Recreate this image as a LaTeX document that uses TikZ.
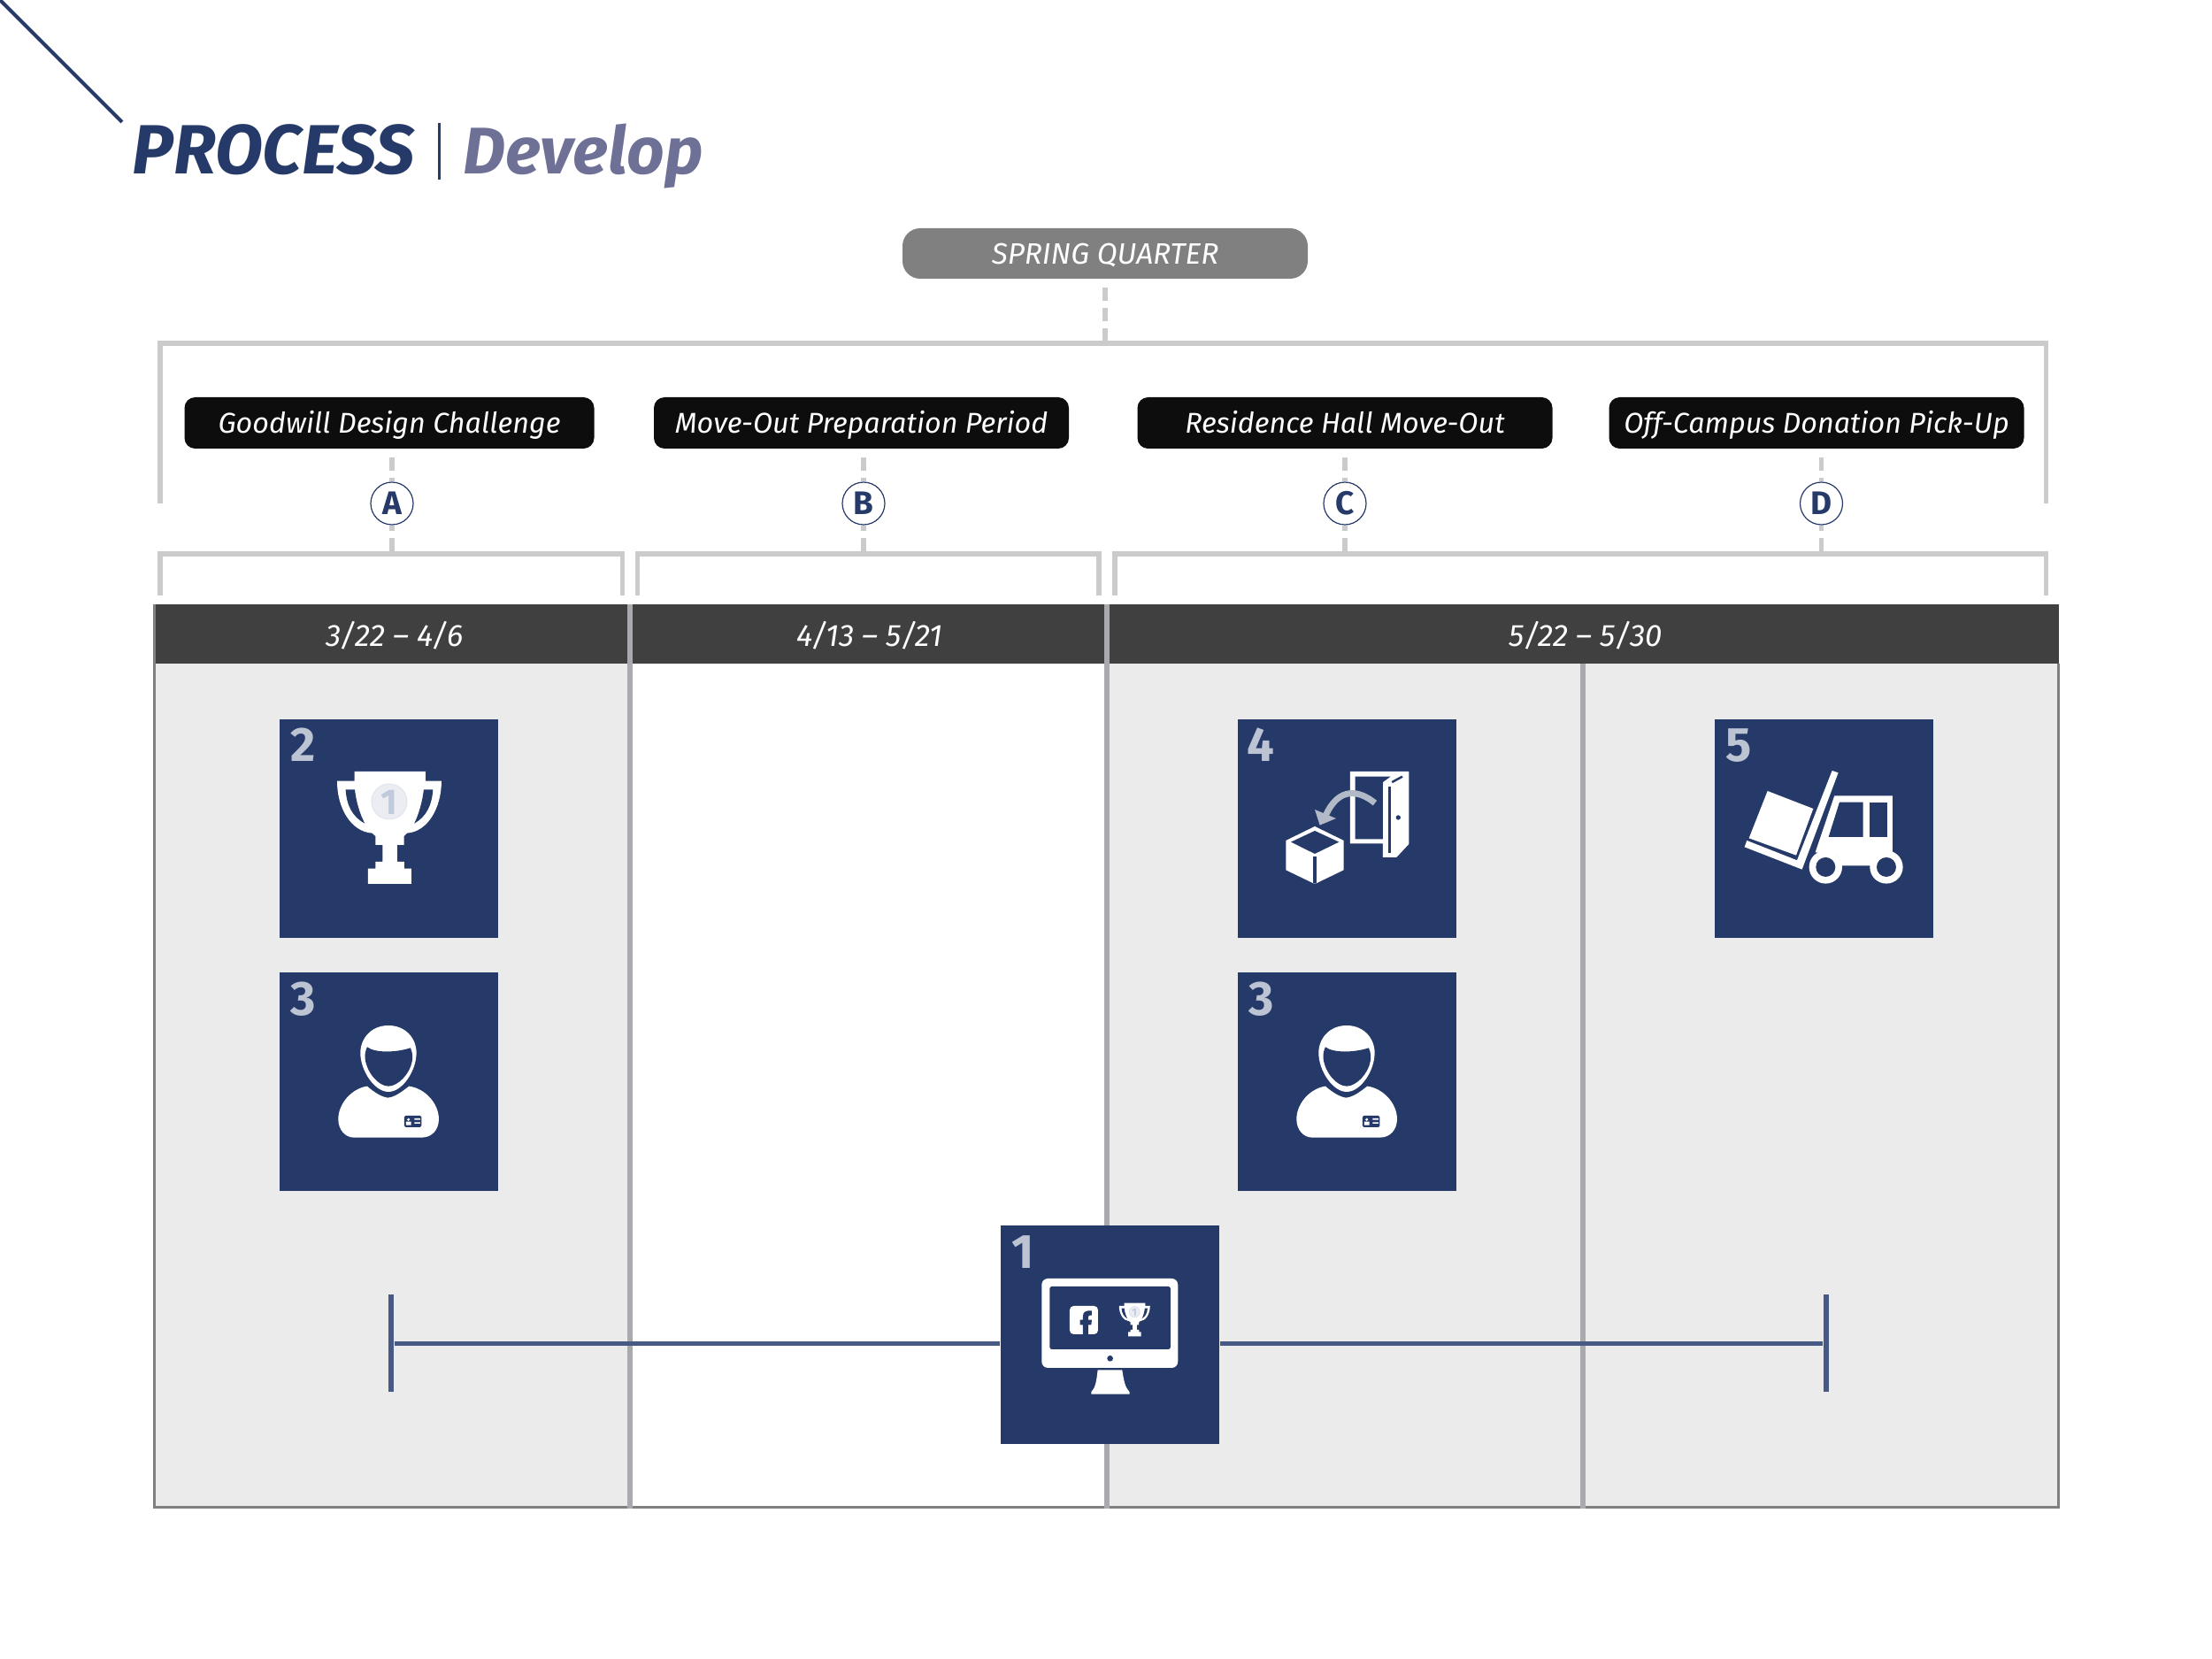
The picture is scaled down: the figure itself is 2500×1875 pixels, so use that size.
\documentclass[tikz,border=0pt]{standalone}
\usepackage{fontspec}
\setmainfont{Fira Sans}
\usetikzlibrary{calc}
\definecolor{navy}{HTML}{253A69}
\definecolor{dusk}{HTML}{6E7096}
\definecolor{numgray}{HTML}{BCC4D3}
\definecolor{rail}{HTML}{CBCBCB}
\definecolor{sepgray}{HTML}{A9AAAD}
\definecolor{pane}{HTML}{EBEBEB}
\definecolor{hdr}{HTML}{404040}
\definecolor{spanline}{HTML}{475A85}
\definecolor{medal}{HTML}{ECEDF3}
\definecolor{medalnum}{HTML}{C1C9DC}
\tikzstyle{phase} = [rectangle, fill=black!95, text=white, rounded corners=1.2mm, inner sep=0pt,
    minimum width=46.9mm, minimum height=5.8mm, text height=3mm, text depth=.6mm,
    font=\fontsize{9.2pt}{11pt}\selectfont\itshape]
\tikzstyle{quarter} = [rectangle, fill=black!50, text=white, rounded corners=2mm, inner sep=0pt,
    minimum width=45.8mm, minimum height=5.7mm, text height=3.1mm, text depth=.6mm,
    font=\fontsize{9.5pt}{11pt}\selectfont\itshape]
\tikzstyle{tag} = [circle, draw=navy, line width=.12mm, fill=white, text=navy, inner sep=0pt,
    minimum size=4.8mm, font=\fontsize{10.5pt}{12pt}\selectfont\bfseries]
\tikzstyle{tile} = [rectangle, fill=navy, inner sep=0pt, minimum size=24.7mm]
\tikzstyle{num} = [anchor=base west, inner sep=0pt, text=numgray, font=\fontsize{15.5pt}{18pt}\selectfont\bfseries]
\tikzstyle{datelbl} = [anchor=base, text=white, inner sep=0pt, font=\fontsize{9.9pt}{11pt}\selectfont\itshape]
\tikzstyle{dashline} = [rail, line width=.55mm, dash pattern=on 1.5mm off .8mm]
\tikzstyle{railline} = [rail, line width=.55mm]
\tikzstyle{sep} = [sepgray, line width=.6mm]
\tikzstyle{spancap} = [rectangle, fill=spanline, inner sep=0pt, minimum width=.6mm, minimum height=11mm]
\tikzstyle{iconunit} = [x=.03333mm, y=-.03333mm]
\newcommand{\trophyicon}{
  \fill[white] (302,216) -- (543,216) -- (543,248) -- (597,248) .. controls (597,340) and (550,420) .. (480,425)
    -- (470,435) -- (470,465) -- (447,465) -- (447,522) -- (471,522) -- (471,545) -- (495,545) -- (495,597)
    -- (348,597) -- (348,545) -- (373,545) -- (373,522) -- (397,522) -- (397,465) -- (373,465) -- (373,435)
    -- (362,425) .. controls (290,420) and (243,340) .. (243,248) -- (302,248) -- cycle;
  \fill[navy] (272,277) -- (303,277) .. controls (308,320) and (320,360) .. (337,392)
    .. controls (295,370) and (275,330) .. (272,277) -- cycle;
  \fill[navy] (568,277) -- (537,277) .. controls (532,320) and (520,360) .. (505,392)
    .. controls (545,370) and (565,330) .. (568,277) -- cycle;
  \draw[medalnum!50, fill=medal, line width=.1mm] (420,318) circle (60);
  \node[text=medalnum, inner sep=0pt, font=\fontsize{11.5pt}{12pt}\selectfont\rmfamily\bfseries] at (420,320) {1};
}
\newcommand{\personicon}{
  \fill[white] (417,207) .. controls (475,207) and (512,250) .. (512,300) .. controls (512,360) and (465,432) .. (417,432)
    .. controls (370,432) and (322,360) .. (322,300) .. controls (322,250) and (360,207) .. (417,207) -- cycle;
  \fill[navy] (345,280) .. controls (370,300) and (440,300) .. (492,283) .. controls (500,300) and (500,320) .. (497,330)
    .. controls (490,370) and (450,413) .. (417,413) .. controls (385,413) and (345,370) .. (338,320)
    .. controls (336,305) and (340,290) .. (345,280) -- cycle;
  \fill[white] (345,413) .. controls (370,435) and (395,450) .. (415,452) .. controls (440,450) and (465,430) .. (487,413)
    .. controls (540,420) and (588,470) .. (588,525) .. controls (588,560) and (565,587) .. (530,587) -- (300,587)
    .. controls (270,587) and (247,560) .. (247,525) .. controls (247,470) and (295,420) .. (345,413) -- cycle;
  \fill[navy, rounded corners=.15mm] (471,513) rectangle (529,552);
  \fill[white] (485,526) circle (5) (477,533) rectangle (494,545) (505,522) rectangle (525,527) (505,535) rectangle (525,540);
}
\setlength{\parindent}{0pt}
\begin{document}
\begin{tikzpicture}[x=.1mm,y=-.1mm,line cap=butt]
  \useasboundingbox (0,0) rectangle (2500,1875);
  \draw[navy, line width=.4mm] (0,0) -- (138,138);
  \node[anchor=base west, inner sep=0pt, text=navy, font=\fontsize{22.4pt}{24pt}\selectfont\bfseries\itshape] (proc) at (149,197) {PROCESS};
  \node[anchor=base west, inner sep=0pt, text=dusk, font=\fontsize{21.2pt}{24pt}\selectfont\bfseries\itshape] (dev) at (523,197) {Develop};
  \coordinate (bara) at (496,139);
  \coordinate (barb) at (496,203);
  \draw[navy, line width=.3mm] (bara) -- (barb);

  \node[quarter] (spring) at (1249,286.5) {SPRING QUARTER};
  \coordinate (jtop) at (1249,385);
  \draw[dashline, shorten <=.9mm] (spring) -- (jtop);
  \draw[railline] (181,569) -- (181,388) -- (2312.5,388) -- (2312.5,569);

  \node[phase, minimum width=46.3mm] (goodwill) at (440,478) {Goodwill Design Challenge};
  \node[phase] (moveout) at (973.5,478) {Move-Out Preparation Period};
  \node[phase] (hall) at (1520,478) {Residence Hall Move-Out};
  \node[phase] (campus) at (2053,478) {Off-Campus Donation Pick-Up};

  \node[tag] (a) at (443,569) {A};
  \node[tag] (b) at (976,569) {B};
  \node[tag] (c) at (1520,569) {C};
  \node[tag] (d) at (2058.5,569) {D};

  \draw[railline] (181,673) -- (181,626) -- (703.5,626) -- (703.5,673);
  \draw[railline] (720.5,673) -- (720.5,626) -- (1242,626) -- (1242,673);
  \draw[railline] (1260,673) -- (1260,626) -- (2312.5,626) -- (2312.5,673);

  \coordinate (ja) at (443,623);
  \coordinate (jb) at (976,623);
  \coordinate (jc) at (1520,623);
  \coordinate (jd) at (2058.5,623);
  \draw[dashline, shorten <=.9mm] (a |- goodwill.south) -- (a);
  \draw[dashline, shorten <=.9mm] (b |- moveout.south) -- (b);
  \draw[dashline, shorten <=.9mm] (c |- hall.south) -- (c);
  \draw[dashline, shorten <=.9mm] (d |- campus.south) -- (d);
  \draw[dashline] (ja) -- (a);
  \draw[dashline] (jb) -- (b);
  \draw[dashline] (jc) -- (c);
  \draw[dashline] (jd) -- (d);

  \fill[pane] (174,750) rectangle (712,1703);
  \fill[pane] (1250,750) rectangle (2326,1703);
  \fill[hdr] (173,683) rectangle (2327,750);
  \draw[black!50, line width=.3mm] (174.5,683) -- (174.5,1703) -- (2326,1703) -- (2326,750);
  \draw[sep] (712,683) -- (712,1704.5);
  \draw[sep] (1250.5,683) -- (1250.5,1704.5);
  \draw[sep] (1789,750) -- (1789,1704.5);
  \node[datelbl] (d1) at (446,730) {3/22 -- 4/6};
  \node[datelbl] (d2) at (983,730) {4/13 -- 5/21};
  \node[datelbl] (d3) at (1792,730) {5/22 -- 5/30};

  \node[tile] (t2) at (439.5,936) {};
  \node[tile] (t3) at (439.5,1222.5) {};
  \node[tile] (t4) at (1522.5,936) {};
  \node[tile] (t6) at (1522.5,1222.5) {};
  \node[tile] (t5) at (2061.5,936) {};

  \node[spancap] (lcap) at (442.3,1518) {};
  \node[spancap] (rcap) at (2063.7,1518) {};
  \node[tile] (t1) at (1254.5,1508.5) {};
  \draw[spanline, line width=.5mm] (lcap) -- (lcap -| t1.west);
  \draw[spanline, line width=.5mm] (rcap) -- (rcap -| t1.east);

  \node[num] (n2) at ($(t2.north west)+(12,49)$) {2};
  \node[num] (n3) at ($(t3.north west)+(12,49)$) {3};
  \node[num] (n4) at ($(t4.north west)+(10,49)$) {4};
  \node[num] (n6) at ($(t6.north west)+(12,49)$) {3};
  \node[num] (n5) at ($(t5.north west)+(12,49)$) {5};
  \node[num] (n1) at ($(t1.north west)+(12,49)$) {1};

  \begin{scope}[shift={(300,800)},iconunit]
    \trophyicon
  \end{scope}
  \begin{scope}[shift={(300,1090)},iconunit]
    \personicon
  \end{scope}
  \begin{scope}[shift={(1383,1090)},iconunit]
    \personicon
  \end{scope}

  \begin{scope}[shift={(1390,800)},iconunit]
    \fill[white] (408,216) -- (607,216) -- (607,462) -- (565,507) -- (519,507) -- (519,460) -- (408,460) -- cycle;
    \fill[navy] (425,233) -- (545,233) -- (519,252) -- (519,445) -- (425,445) -- cycle;
    \fill[navy] (536,268) rectangle (546,493);
    \draw[navy, line width=.25mm] (550,252) -- (585,233);
    \fill[navy] (571,372) circle (8);
    \draw[numgray!95!black, line width=.7mm] (492,323) .. controls (440,280) and (370,265) .. (325,365);
    \fill[numgray!95!black] (288,345) -- (305,398) -- (360,375) -- cycle;
    \fill[white] (288,402) -- (386,450) -- (386,550) -- (293,595) -- (283,595) -- (190,550) -- (190,450) -- cycle;
    \fill[navy] (288,417) -- (370,455) -- (288,495) -- (207,455) -- cycle;
    \fill[navy] (283,505) rectangle (293,595);
  \end{scope}

  \begin{scope}[shift={(1930,800)},iconunit]
    \fill[white] (133,450) -- (303,517) -- (422,213) -- (443,220) -- (320,548) -- (125,472) -- cycle;
    \fill[white] (203,282) -- (358,342) -- (300,500) -- (140,442) -- cycle;
    \fill[white] (430,298) -- (627,298) -- (627,500) -- (550,535) -- (455,535) -- (440,500) -- (365,490) -- cycle;
    \fill[navy] (447,320) -- (527,320) -- (527,438) -- (410,438) -- cycle;
    \fill[navy] (550,320) rectangle (608,438);
    \fill[white] (400,540) circle (56) (606,540) circle (56);
    \fill[navy] (400,540) circle (33) (606,540) circle (33);
  \end{scope}

  \begin{scope}[shift={(1120,1380)},iconunit]
    \fill[white, rounded corners=.7mm] (172,195) rectangle (634,498);
    \fill[navy, rounded corners=.25mm] (199,222) rectangle (609,435);
    \fill[navy] (404,466) circle (10);
    \fill[white] (362,505) -- (445,505) .. controls (450,540) and (455,565) .. (470,580) -- (470,587) -- (340,587) -- (340,580)
      .. controls (355,565) and (358,540) .. (362,505) -- cycle;
    \fill[white, rounded corners=.45mm] (267,288) rectangle (363,384);
    \fill[navy] (312,384) -- (312,352) -- (302,352) -- (302,335) -- (312,335) -- (312,322) .. controls (312,308) and (322,303) .. (342,304)
      -- (342,320) -- (335,320) .. controls (330,320) and (330,325) .. (330,328) -- (330,335) -- (342,335) -- (340,352) -- (330,352) -- (330,384) -- cycle;
  \end{scope}
  \begin{scope}[shift={(1240.7,1451.3)},iconunit,scale=.297,transform shape]
    \trophyicon
  \end{scope}
\end{tikzpicture}
\end{document}
